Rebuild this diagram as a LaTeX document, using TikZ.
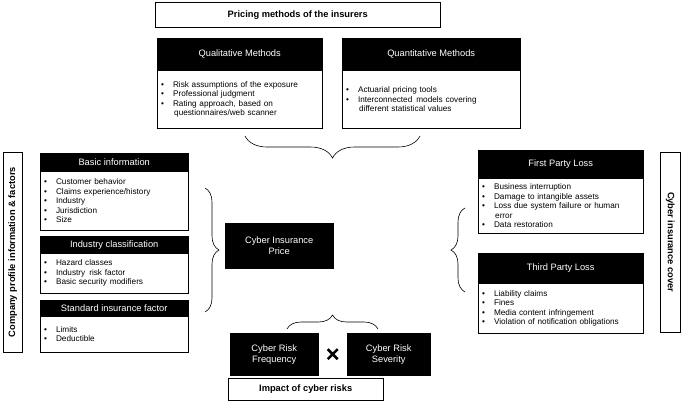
\documentclass[tikz,border=0pt]{standalone}
\usepackage{fontspec}
\setmainfont{Liberation Sans}
\usetikzlibrary{positioning,calc,decorations.pathreplacing}

\begin{document}
\begin{tikzpicture}[x=1pt,y=-1pt,
        head/.style={rectangle, draw, fill=black, text=white, anchor=north west, inner sep=0pt, font=\fontsize{9.3}{11}\selectfont},
        list/.style={rectangle, draw, fill=white, anchor=north west, align=left, inner sep=0pt, font=\fontsize{8.2}{9.4}\selectfont},
        title/.style={rectangle, draw, anchor=north west, inner sep=0pt, font=\bfseries\fontsize{9.3}{11}\selectfont},
        brace/.style={decorate, decoration={brace, amplitude=14pt}, semithick}
    ]
        \useasboundingbox (0,0) rectangle (685,404);
        \newcommand{\itm}{\textbullet\hspace{9pt}}
        % top
        \node[title, minimum width=285pt, minimum height=25pt] (pricing) at (155,2) {Pricing methods of the insurers};
        \node[head, minimum width=165pt, minimum height=32pt] (qualh) at (157,38) {Qualitative Methods};
        \node[list, minimum width=165pt, minimum height=58pt, text width=157pt] (quall) at (157,70)
            {\itm Risk assumptions of the exposure\\\itm Professional judgment\\\itm Rating approach, based on\\\hspace{13pt}questionnaires/web scanner};
        \node[head, minimum width=178pt, minimum height=32pt] (quanh) at (342,38) {Quantitative Methods};
        \node[list, minimum width=178pt, minimum height=58pt, text width=170pt] (quanl) at (342,70)
            {\itm Actuarial pricing tools\\\itm Interconnected\, models covering\\\hspace{13pt}different statistical values\\[11pt]};
        % left
        \node[title, minimum width=19pt, minimum height=200pt] (company) at (3,152) {};
        \node[rotate=90, font=\bfseries\fontsize{9.3}{11}\selectfont] at (company.center) {Company profile information \& factors};
        \node[head, minimum width=148pt, minimum height=18pt] (basich) at (40,153) {Basic information};
        \node[list, minimum width=148pt, minimum height=59pt, text width=140pt] (basicl) at (40,171)
            {\itm Customer behavior\\\itm Claims experience/history\\\itm Industry\\\itm Jurisdiction\\\itm Size};
        \node[head, minimum width=148pt, minimum height=17pt] (indh) at (40,236) {Industry classification};
        \node[list, minimum width=148pt, minimum height=40pt, text width=140pt] (indl) at (40,253)
            {\itm Hazard classes\\\itm Industry\, risk factor\\\itm Basic security modifiers};
        \node[head, minimum width=148pt, minimum height=16pt] (stdh) at (40,300) {Standard insurance factor};
        \node[list, minimum width=148pt, minimum height=36pt, text width=140pt] (stdl) at (40,316)
            {\itm Limits\\\itm Deductible};
        % right
        \node[head, minimum width=165pt, minimum height=28pt] (firsth) at (478,150) {First Party Loss};
        \node[list, minimum width=165pt, minimum height=55pt, text width=157pt] (firstl) at (478,178)
            {\itm Business interruption\\\itm Damage to intangible assets\\\itm Loss due system failure or human\\\hspace{13pt}error\\\itm Data restoration};
        \node[head, minimum width=165pt, minimum height=30pt] (thirdh) at (478,253) {Third Party Loss};
        \node[list, minimum width=165pt, minimum height=50pt, text width=157pt] (thirdl) at (478,283)
            {\itm Liability claims\\\itm Fines\\\itm Media content infringement\\\itm Violation of notification obligations};
        \node[title, minimum width=20pt, minimum height=180pt] (cover) at (660,152) {};
        \node[rotate=-90, font=\bfseries\fontsize{9.3}{11}\selectfont] at (cover.center) {Cyber insurance cover};
        % center and bottom
        \node[head, minimum width=108pt, minimum height=45pt, align=center] (price) at (225,223) {Cyber Insurance\\Price};
        \node[head, minimum width=88pt, minimum height=42pt, align=center] (freq) at (230,333) {Cyber Risk\\Frequency};
        \node[head, minimum width=83pt, minimum height=42pt, align=center] (sev) at (347,333) {Cyber Risk\\Severity};
        \coordinate (cross) at ($(freq.east)!0.5!(sev.west)$);
        \draw[line width=2.6pt] ($(cross)+(-5,-5)$) -- ($(cross)+(5,5)$) ($(cross)+(-5,5)$) -- ($(cross)+(5,-5)$);
        \node[title, minimum width=155pt, minimum height=22pt] (impact) at (228,378) {Impact of cyber risks};
        % braces
        \draw[brace, decoration={amplitude=22pt}] (420,136) -- (245,136);
        \draw[brace] (205,188) -- (205,312);
        \draw[brace] (465,292) -- (465,208);
        \draw[brace] (287,329) -- (378,329);
    \end{tikzpicture}
\end{document}
